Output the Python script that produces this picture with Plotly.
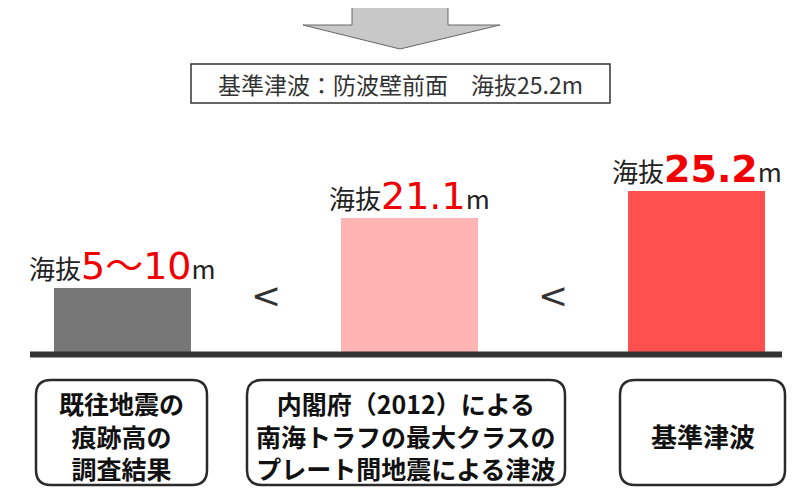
import plotly.graph_objects as go

# ---- data ----
categories = ["既往地震の<br>痕跡高の<br>調査結果",
              "内閣府（2012）による<br>南海トラフの最大クラスの<br>プレート間地震による津波",
              "基準津波"]
values = [10, 21.1, 25.2]
value_labels = ["5～10", "21.1", "25.2"]
label_bold = [False, False, True]
bar_colors = ["#777777", "#FFB4B4", "#FF5050"]
header_text = "基準津波：防波壁前面　海抜25.2m"

# ---- layout constants (pixels, page coordinates) ----
W, H = 800, 500
OFF = 8                  # default page margin around the plot
FONT = "Noto Sans CJK JP"
NUMFONT = "DejaVu Sans, Noto Sans CJK JP"
ground_py = 352 - OFF    # figure pixel row of value 0
px_per_unit = 6.37
center0, step = 122.5 - OFF, 287.0
bar_px_width = 137

def px(x):
    return (x - OFF) / W

def py(y):
    return 1 - (y - OFF) / H

def rrect(x0, y0, x1, y1, r):
    X = lambda v: f"{px(v):.5f}"
    Y = lambda v: f"{py(v):.5f}"
    return (f"M {X(x0 + r)},{Y(y0)} L {X(x1 - r)},{Y(y0)} "
            f"Q {X(x1)},{Y(y0)} {X(x1)},{Y(y0 + r)} "
            f"L {X(x1)},{Y(y1 - r)} Q {X(x1)},{Y(y1)} {X(x1 - r)},{Y(y1)} "
            f"L {X(x0 + r)},{Y(y1)} Q {X(x0)},{Y(y1)} {X(x0)},{Y(y1 - r)} "
            f"L {X(x0)},{Y(y0 + r)} Q {X(x0)},{Y(y0)} {X(x0 + r)},{Y(y0)} Z")

idx = list(range(len(categories)))
fig = go.Figure()
fig.add_trace(go.Bar(
    x=idx, y=values, width=bar_px_width / step,
    marker=dict(color=bar_colors, line=dict(width=0)),
    hoverinfo="skip", showlegend=False,
))

shapes = []
annotations = []

# arrow at top
arrow_pts = [(352, -2), (448, -2), (448, 25), (500, 25), (400, 49), (303, 25), (352, 25)]
path = "M " + " L ".join(f"{px(a):.5f},{py(b):.5f}" for a, b in arrow_pts) + " Z"
shapes.append(dict(type="path", xref="paper", yref="paper", path=path,
                   fillcolor="#C8C8C8", line=dict(color="#666666", width=1), layer="above"))

# header box
shapes.append(dict(type="rect", xref="paper", yref="paper",
                   x0=px(191), x1=px(610), y0=py(64), y1=py(103),
                   line=dict(color="#333333", width=1.5), fillcolor="rgba(0,0,0,0)"))
annotations.append(dict(xref="paper", yref="paper", x=px(400.5), y=py(84),
                        text=header_text, showarrow=False, xanchor="center", yanchor="middle",
                        font=dict(family=FONT, size=23, color="#333333")))

# ground line
shapes.append(dict(type="line", xref="paper", yref="paper",
                   x0=px(30), x1=px(782), y0=py(354.5), y1=py(354.5),
                   line=dict(color="#333333", width=6), layer="above"))

# value labels above bars
for i, (v, lab, b) in enumerate(zip(values, value_labels, label_bold)):
    num = f"<b>{lab}</b>" if b else lab
    txt = (f"海抜<span style='color:#F00000;font-size:38px;font-family:{NUMFONT}'>{num}</span>"
           f"<span style='font-size:26px'>m</span>")
    annotations.append(dict(x=i, y=v, xref="x", yref="y", text=txt, showarrow=False,
                            xanchor="center", yanchor="bottom", yshift=-2,
                            font=dict(family=FONT, size=26, color="#222222")))

# "<" between bars
for k in range(len(values) - 1):
    annotations.append(dict(x=k + 0.5, xref="x", yref="paper", y=py(295), text="&lt;",
                            showarrow=False, xanchor="center", yanchor="middle",
                            font=dict(family="DejaVu Sans", size=36, color="#333333")))

# bottom rounded boxes with category labels
boxes = [(36, 207), (247, 565), (620, 785)]
box_font = [25, 25, 26]
for (x0, x1), cat, fs in zip(boxes, categories, box_font):
    shapes.append(dict(type="path", xref="paper", yref="paper",
                       path=rrect(x0, 380, x1, 485, 15),
                       line=dict(color="#2a2a2a", width=2.5), fillcolor="rgba(0,0,0,0)"))
    annotations.append(dict(xref="paper", yref="paper", x=px((x0 + x1) / 2), y=py(435),
                            text=f"<b>{cat}</b>", showarrow=False,
                            xanchor="center", yanchor="middle", align="center",
                            font=dict(family=FONT, size=fs, color="#111111")))

fig.update_layout(
    width=W, height=H,
    margin=dict(l=0, r=0, t=0, b=0),
    paper_bgcolor="white", plot_bgcolor="white",
    xaxis=dict(range=[-center0 / step, (W - center0) / step], visible=False, fixedrange=True),
    yaxis=dict(range=[(ground_py - H) / px_per_unit, ground_py / px_per_unit],
               visible=False, fixedrange=True),
    shapes=shapes, annotations=annotations,
    bargap=0,
)

fig.write_html("out.html")
